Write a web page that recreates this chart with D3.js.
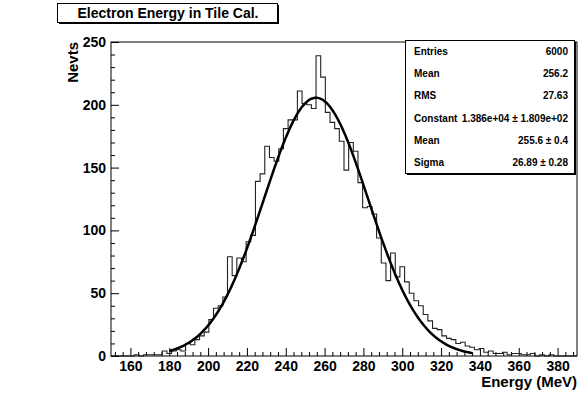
<!DOCTYPE html>
<html>
<head>
<meta charset="utf-8">
<script src="https://cdn.jsdelivr.net/npm/d3@7"></script>
<style>
body { margin: 0; background: #fff; }
text { font-family: "Liberation Sans", Arial, sans-serif; font-weight: bold; fill: #000; }
</style>
</head>
<body>
<div id="chart"></div>
<script>
// histogram: 100 bins from 150 to 390 MeV
var xLow = 150;
var xHigh = 390;
var counts = [
    0, 0, 0, 0, 0, 1, 0, 1, 1, 1,
    1, 4, 2, 4, 5, 4, 10, 9, 13, 16,
    19, 29, 38, 40, 47, 79, 64, 78, 75, 91,
    96, 139, 145, 167, 158, 155, 165, 181, 188, 188,
    211, 201, 200, 197, 239, 222, 194, 186, 181, 171,
    148, 170, 163, 138, 118, 119, 113, 94, 74, 60,
    82, 63, 71, 59, 50, 44, 40, 33, 28, 22,
    21, 16, 14, 13, 10, 11, 8, 7, 5, 6,
    3, 4, 2, 2, 3, 1, 2, 2, 1, 1,
    2, 0, 1, 0, 1, 0, 0, 0, 0, 0
];

var xMajor = [160, 180, 200, 220, 240, 260, 280, 300, 320, 340, 360, 380];
var yMajor = [0, 50, 100, 150, 200, 250];

// gaussian fit
var fitConstant = 13860;
var fitMean = 255.6;
var fitSigma = 26.89;
var fitRange = [180, 336];

var statsLabels = ["Entries", "Mean", "RMS", "Constant", "Mean", "Sigma"];
var statsValues = ["6000", "256.2", "27.63", "1.386e+04 \u00b1 1.809e+02", "255.6 \u00b1 0.4", "26.89 \u00b1 0.28"];

var svgWidth = 582;
var svgHeight = 396;

var margin = {
    top: 42,
    right: 5,
    left: 111,
    bottom: 40
};

var chartWidth = svgWidth - margin.left - margin.right;
var chartHeight = svgHeight - margin.top - margin.bottom;

var svg = d3.select("#chart")
    .append("svg")
        .attr("width", svgWidth)
        .attr("height", svgHeight);

var chart = svg.append("g")
    .attr("transform", `translate(${margin.left}, ${margin.top})`);

var xScale = d3.scaleLinear()
    .domain([xLow, xHigh])
    .range([0, chartWidth]);

var yScale = d3.scaleLinear()
    .domain([0, 250])
    .range([chartHeight, 0]);

// minor ticks
var xMinor = d3.range(152, xHigh, 4).filter(d => xMajor.indexOf(d) < 0);
var yMinor = d3.range(0, 251, 10).filter(d => yMajor.indexOf(d) < 0);

chart.append("g")
    .attr("transform", `translate(0, ${chartHeight})`)
    .call(d3.axisBottom(xScale).tickValues(xMinor).tickSize(-4).tickFormat(""))
    .call(g => g.select(".domain").remove());

chart.append("g")
    .attr("transform", `translate(0, ${chartHeight})`)
    .call(d3.axisBottom(xScale).tickValues(xMajor).tickSize(-8).tickPadding(5))
    .call(g => g.select(".domain").remove())
    .selectAll("text")
        .style("font-size", "14px");

chart.append("g")
    .call(d3.axisLeft(yScale).tickValues(yMinor).tickSize(-4).tickFormat(""))
    .call(g => g.select(".domain").remove());

chart.append("g")
    .call(d3.axisLeft(yScale).tickValues(yMajor).tickSize(-8).tickPadding(5))
    .call(g => g.select(".domain").remove())
    .selectAll("text")
        .style("font-size", "14px");

chart.selectAll(".tick line").attr("stroke", "#000");

// histogram outline
var binWidth = (xHigh - xLow) / counts.length;
var pts = [[xScale(xLow), yScale(0)]];
counts.forEach(function (c, i) {
    var x0 = xScale(xLow + i * binWidth);
    var x1 = xScale(xLow + (i + 1) * binWidth);
    pts.push([x0, yScale(c)]);
    pts.push([x1, yScale(c)]);
});
pts.push([xScale(xHigh), yScale(0)]);

chart.append("path")
    .attr("d", d3.line()(pts))
    .attr("fill", "none")
    .attr("stroke", "#222")
    .attr("stroke-width", 1.1);

// fit curve
var peak = fitConstant / (Math.sqrt(2 * Math.PI) * fitSigma);
var fitPts = d3.range(fitRange[0], fitRange[1] + 0.01, 0.5).map(function (e) {
    var z = (e - fitMean) / fitSigma;
    return [xScale(e), yScale(peak * Math.exp(-0.5 * z * z))];
});

chart.append("path")
    .attr("d", d3.line().curve(d3.curveBasis)(fitPts))
    .attr("fill", "none")
    .attr("stroke", "#000")
    .attr("stroke-width", 2.5);

// frame
chart.append("rect")
    .attr("width", chartWidth)
    .attr("height", chartHeight)
    .attr("fill", "none")
    .attr("stroke", "#000");

// axis titles
svg.append("text")
    .attr("x", 577)
    .attr("y", 387)
    .attr("text-anchor", "end")
    .style("font-size", "15px")
    .text("Energy (MeV)");

svg.append("text")
    .attr("transform", "translate(78, 42) rotate(-90)")
    .attr("text-anchor", "end")
    .style("font-size", "15px")
    .text("Nevts");

// title box
var titleBox = svg.append("g");
titleBox.append("rect")
    .attr("x", 59).attr("y", 5)
    .attr("width", 220).attr("height", 19)
    .attr("fill", "#000");
titleBox.append("rect")
    .attr("x", 57.5).attr("y", 3.5)
    .attr("width", 220).attr("height", 19)
    .attr("fill", "#fff")
    .attr("stroke", "#000");
titleBox.append("text")
    .attr("x", 168)
    .attr("y", 18)
    .attr("text-anchor", "middle")
    .style("font-size", "14px")
    .text("Electron Energy in Tile Cal.");

// stats box
var stats = svg.append("g");
stats.append("rect")
    .attr("x", 407).attr("y", 42)
    .attr("width", 169).attr("height", 133)
    .attr("fill", "#000");
stats.append("rect")
    .attr("x", 405.5).attr("y", 40.5)
    .attr("width", 169).attr("height", 133)
    .attr("fill", "#fff")
    .attr("stroke", "#000");

var rowH = 133 / statsLabels.length;
stats.selectAll(".slabel")
    .data(statsLabels)
    .enter()
    .append("text")
        .attr("x", 414)
        .attr("y", (d, i) => 40 + rowH * (i + 0.5) + 4)
        .style("font-size", "10px")
        .text(d => d);

stats.selectAll(".svalue")
    .data(statsValues)
    .enter()
    .append("text")
        .attr("x", 568)
        .attr("y", (d, i) => 40 + rowH * (i + 0.5) + 4)
        .attr("text-anchor", "end")
        .style("font-size", "10px")
        .text(d => d);
</script>
</body>
</html>
